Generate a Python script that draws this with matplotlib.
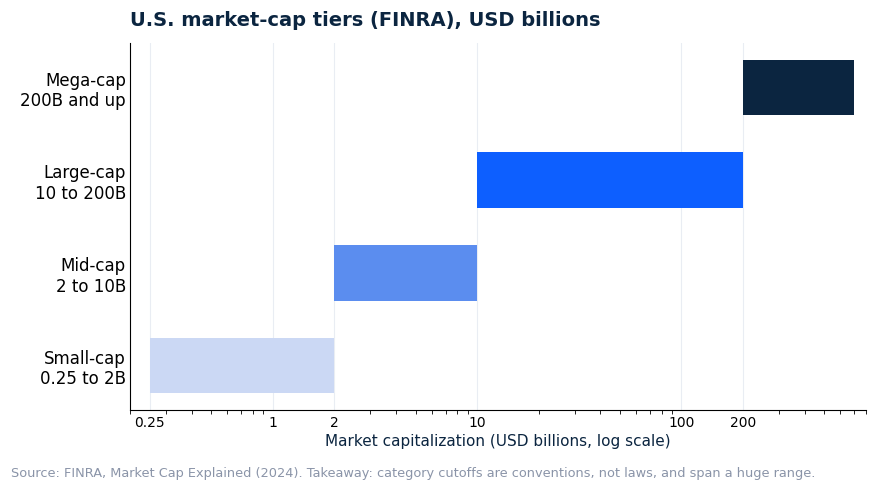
import matplotlib

matplotlib.use("Agg")

import matplotlib.pyplot as plt
from matplotlib.ticker import FixedLocator, FixedFormatter, LogLocator, NullFormatter

tiers = ["Small-cap\n0.25 to 2B", "Mid-cap\n2 to 10B", "Large-cap\n10 to 200B", "Mega-cap\n200B and up"]
low = [0.25, 2, 10, 200]
high = [2, 10, 200, 700]
colors = ["#cbd8f4", "#5b8def", "#0d5fff", "#0b2540"]
tick_vals = [0.25, 1, 2, 10, 100, 200]
tick_labels = ["0.25", "1", "2", "10", "100", "200"]

navy = "#0b2540"

fig = plt.figure(figsize=(8.76, 4.9), dpi=100)
ax = fig.add_axes([0.1484, 0.1633, 0.8402, 0.7489])

widths = [h - l for l, h in zip(low, high)]
ax.barh(range(len(tiers)), widths, left=low, height=0.6, color=colors)

ax.set_xscale("log")
ax.set_xlim(0.2, 800)
ax.xaxis.set_major_locator(FixedLocator(tick_vals))
ax.xaxis.set_major_formatter(FixedFormatter(tick_labels))
ax.xaxis.set_minor_locator(LogLocator(base=10, subs=range(2, 10)))
ax.xaxis.set_minor_formatter(NullFormatter())
ax.tick_params(axis="x", which="major", length=0, labelsize=10, pad=4)
ax.tick_params(axis="x", which="minor", length=3)
ax.set_yticks(range(len(tiers)))
ax.set_yticklabels(tiers, fontsize=12)
ax.tick_params(axis="y", length=0, pad=3)

ax.grid(True, axis="x", which="major", color="#e9edf3", linewidth=0.8)
ax.set_axisbelow(True)
for side in ["top", "right"]:
    ax.spines[side].set_visible(False)

ax.set_xlabel("Market capitalization (USD billions, log scale)", fontsize=11, color=navy, labelpad=3)
ax.set_title("U.S. market-cap tiers (FINRA), USD billions", loc="left",
             fontsize=14, fontweight="bold", color=navy, pad=12)

fig.text(0.012, 0.027,
         "Source: FINRA, Market Cap Explained (2024). Takeaway: category cutoffs are conventions, not laws, and span a huge range.",
         fontsize=9.3, color="#8a94a8")

fig.savefig("out.png", dpi=100)
